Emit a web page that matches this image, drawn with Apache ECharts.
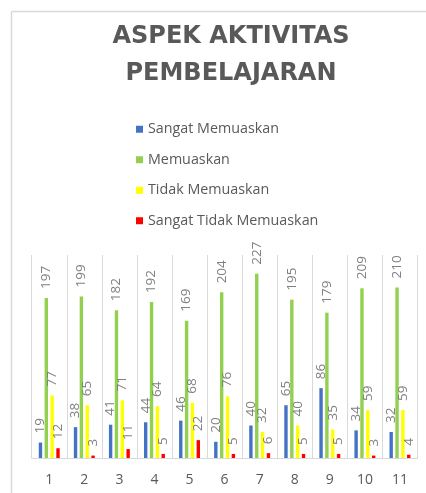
<!DOCTYPE html>
<html>
<head>
<meta charset="utf-8">
<script src="https://cdn.jsdelivr.net/npm/echarts@6/dist/echarts.min.js"></script>
<style>html,body{margin:0;padding:0;background:#fff}#c{width:426px;height:493px}</style>
</head>
<body>
<div id="c"></div>
<script>
var categories = ['1','2','3','4','5','6','7','8','9','10','11'];
var seriesNames = ['Sangat Memuaskan','Memuaskan','Tidak Memuaskan','Sangat Tidak Memuaskan'];
var sangatMemuaskan = [19,38,41,44,46,20,40,65,86,34,32];
var memuaskan = [197,199,182,192,169,204,227,195,179,209,210];
var tidakMemuaskan = [77,65,71,64,68,76,32,40,35,59,59];
var sangatTidakMemuaskan = [12,3,11,5,22,5,6,5,5,3,4];
var colors = ['#4472C4','#92D050','#FFFF00','#FF0000'];
var values = [sangatMemuaskan, memuaskan, tidakMemuaskan, sangatTidakMemuaskan];

var chart = echarts.init(document.getElementById('c'), null, {renderer:'canvas'});
var series = seriesNames.map(function(n,i){
  return {
    name: n, type: 'bar', data: values[i],
    barWidth: 3.4, barGap: '72%',
    itemStyle: {color: colors[i]},
    label: {show:true, position:'top', rotate:90, align:'left', verticalAlign:'middle', distance:9,
      color:'#808080', fontSize:13.5, fontFamily:'Open Sans'}
  };
});
chart.setOption({
  backgroundColor:'#fff',
  animation:false,
  color: colors,
  title: {
    text: 'ASPEK AKTIVITAS\nPEMBELAJARAN',
    left: 226, top: 13, textAlign:'center',
    textStyle: {fontFamily:'DejaVu Sans', fontWeight:'bold', fontSize:24, lineHeight:37, color:'#595959'}
  },
  legend: {
    orient:'vertical', left:131, top:116,
    icon:'rect', itemWidth:7, itemHeight:7, itemGap:14,
    textStyle:{fontFamily:'Open Sans', fontSize:14.3, color:'#595959', lineHeight:16.5}
  },
  grid: {left:31.7, right:8.5, top:255, bottom:35},
  xAxis: {
    type:'category', data: categories,
    axisLine:{lineStyle:{color:'#d9d9d9'}},
    axisTick:{show:false},
    splitLine:{show:true, lineStyle:{color:'#d9d9d9'}},
    axisLabel:{color:'#595959', fontSize:14, fontFamily:'Open Sans', margin:15}
  },
  yAxis: {type:'value', min:0, max:250, show:false},
  series: series,
  graphic: [
    {type:'line', shape:{x1:11.5,y1:11.5,x2:426,y2:11.5}, style:{stroke:'#d9d9d9', lineWidth:1.5}},
    {type:'line', shape:{x1:11.5,y1:11.5,x2:11.5,y2:493}, style:{stroke:'#d9d9d9', lineWidth:1.5}}
  ]
});
</script>
</body>
</html>
